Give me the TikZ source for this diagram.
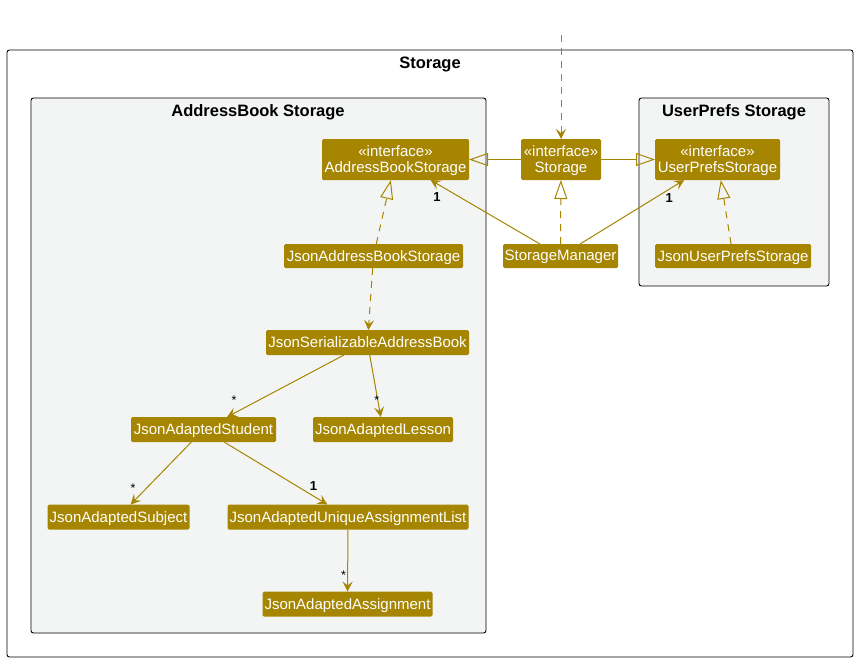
\documentclass[tikz,border=0pt]{standalone}
\usepackage{fontspec}
\setmainfont{Liberation Sans}
\usepackage{xcolor}
\usepackage{tikz}
\usetikzlibrary{arrows.meta}
\definecolor{classgold}{HTML}{A68500}
\definecolor{pkgfill}{HTML}{F3F5F4}

\begin{document}
\begin{tikzpicture}[
  x=1pt, y=-1pt,
  cls/.style={rectangle, fill=classgold, text=white, rounded corners=1.5pt, inner sep=0pt, outer sep=0pt, align=center, text depth=0.5pt, font=\fontsize{15}{16.5}\selectfont},
  pkg/.style={rectangle, draw=black, line width=0.9pt, rounded corners=2.5pt, inner sep=0pt},
  pkgtitle/.style={font=\fontsize{16.5}{19}\selectfont\bfseries, inner sep=0pt},
  mult/.style={inner sep=0pt, font=\fontsize{12.5}{14}\selectfont},
  multone/.style={mult, font=\fontsize{13}{15}\selectfont\bfseries},
  assoc/.style={draw=classgold, line width=1pt, -{Stealth[length=10pt, width=10pt, inset=4pt]}},
  dep/.style={assoc, dash pattern=on 7pt off 6pt},
  ext/.style={draw=classgold, line width=1pt, -{Triangle[open, length=19pt, width=13pt]}},
  impl/.style={ext, dash pattern=on 7pt off 6pt}
]
\useasboundingbox (0,0) rectangle (858,662);

% Packages
\node[pkg, fill=white, minimum width=846pt, minimum height=607pt] (storagepkg) at (430,353.5) {};
\node[pkgtitle] (storagetitle) at (430,64) {Storage};

\node[pkg, fill=pkgfill, minimum width=455pt, minimum height=535pt] (abpkg) at (258.5,365.5) {};
\node[pkgtitle] (abtitle) at (258,112) {AddressBook Storage};

\node[pkg, fill=pkgfill, minimum width=190pt, minimum height=188pt] (uppkg) at (734,192) {};
\node[pkgtitle] (uptitle) at (734,112) {UserPrefs Storage};

% Nodes
\node[cls, minimum width=147pt, minimum height=41pt] (abs) at (395.5,159.5) {«interface»\\AddressBookStorage};
\node[cls, minimum width=80pt, minimum height=41pt] (st) at (561,159.5) {«interface»\\Storage};
\node[cls, minimum width=125pt, minimum height=41pt] (ups) at (717.5,159.5) {«interface»\\UserPrefsStorage};

\node[cls, minimum width=179pt, minimum height=24pt] (jabs) at (373.5,256) {JsonAddressBookStorage};
\node[cls, minimum width=115pt, minimum height=24pt] (sm) at (560.5,256) {StorageManager};
\node[cls, minimum width=156pt, minimum height=24pt] (jups) at (733,256) {JsonUserPrefsStorage};

\node[cls, minimum width=203pt, minimum height=25pt] (jsab) at (367.5,342.5) {JsonSerializableAddressBook};
\node[cls, minimum width=145pt, minimum height=25pt] (jstu) at (203.5,429.5) {JsonAdaptedStudent};
\node[cls, minimum width=140pt, minimum height=25pt] (jles) at (383,429.5) {JsonAdaptedLesson};
\node[cls, minimum width=142pt, minimum height=25pt] (jsub) at (118.5,517) {JsonAdaptedSubject};
\node[cls, minimum width=241pt, minimum height=25pt] (jual) at (348,517) {JsonAdaptedUniqueAssignmentList};
\node[cls, minimum width=170pt, minimum height=25pt] (jasg) at (347.5,604) {JsonAdaptedAssignment};

\coordinate (outside) at (561,35);

% Connections
\draw[dep] (outside) -- (st);

\draw[ext] (st) -- (abs);
\draw[ext] (st) -- (ups);
\draw[impl] (sm) -- (st);
\draw[impl] (jabs) -- (abs);
\draw[impl] (jups) -- (ups);

\draw[assoc] (sm) -- (abs) node[multone, at end, xshift=6.5pt, yshift=-17pt] {1};
\draw[assoc] (sm) -- (ups) node[multone, at end, xshift=-15pt, yshift=-18pt] {1};

\draw[dep] (jabs) -- (jsab);

\draw[assoc] (jsab) -- (jstu) node[mult, at end, xshift=7pt, yshift=16.5pt] {*};
\draw[assoc] (jsab) -- (jles) node[mult, at end, xshift=-4pt, yshift=16.5pt] {*};
\draw[assoc] (jstu) -- (jsub) node[mult, at end, xshift=2.5pt, yshift=16pt] {*};
\draw[assoc] (jstu) -- (jual) node[multone, at end, xshift=-14pt, yshift=18.5pt] {1};
\draw[assoc] (jual) -- (jasg) node[mult, at end, xshift=-4pt, yshift=16pt] {*};

\end{tikzpicture}
\end{document}
